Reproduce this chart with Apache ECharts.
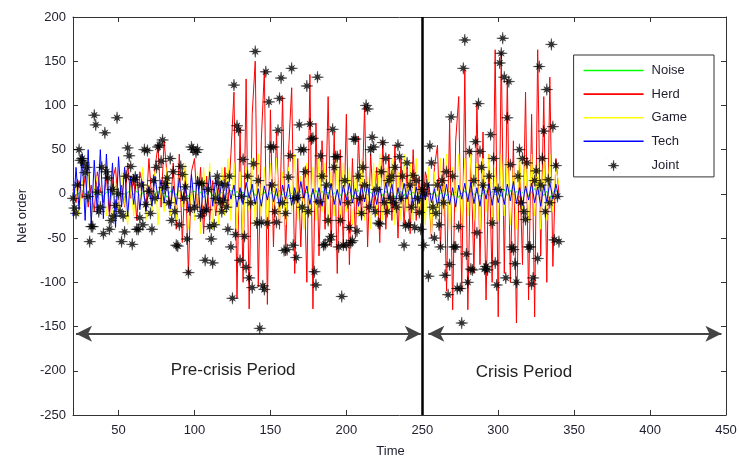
<!DOCTYPE html>
<html>
<head>
<meta charset="utf-8">
<script src="https://cdn.jsdelivr.net/npm/echarts@6/dist/echarts.min.js"></script>
<style>
html,body{margin:0;padding:0;background:#fff;}
#c{width:739px;height:459px;}
</style>
</head>
<body>
<div id="c"></div>
<script>
// ---- data ----
const lineStart = 20;   // first time step of the strategy lines
const lineStep = 2;     // time step of the strategy lines
const jointStart = 20;  // first time step of the joint orders

const noise = [
2,-3,1,4,-2,3,-4,1,2,-1,
-3,2,4,-1,3,-2,1,-4,2,3,
-1,3,-2,1,4,-3,2,-1,3,-2,
1,-4,3,2,-1,4,-2,1,-3,2,
3,-1,2,-4,1,3,-2,4,-1,2,
-3,1,4,-2,3,-1,2,-3,1,4,
-2,3,-1,2,-4,1,3,-2,4,-1,
2,-3,1,4,-2,3,-1,2,-3,1,
4,-2,3,-1,2,-4,1,3,-2,4,
-1,2,-3,1,4,-2,3,-1,2,-3,
1,4,-2,3,-1,2,-4,1,3,-2,
4,-1,2,-3,1,4,-2,3,-1,2,
-3,1,4,-2,3,-1,2,-4,1,3,
-2,4,-1,2,-3,1,4,-2,3,-1,
2,-3,5,-2,4,-1,3,-4,2,5,
-3,2,6,-1,4,-2,3,-5,2,4,
0];

const herd = [
5,-10,15,-5,20,-15,10,-20,25,5,
-10,20,-25,15,30,-20,10,-15,35,-5,
20,-30,25,10,-20,40,-10,30,55,-15,
60,20,-25,35,-40,45,-55,30,-90,25,
40,-20,30,-45,20,-30,15,-25,10,-20,
30,-15,45,115,-118,75,-100,130,-130,90,
150,-105,60,140,-125,95,-60,70,-40,110,
-70,50,120,-90,40,-60,30,-100,135,-130,
80,-70,60,-40,110,-60,70,-90,50,-60,
90,-80,40,-50,65,-30,100,-60,45,-20,
30,-55,60,-40,45,-30,55,-50,40,-35,
30,-45,50,-30,20,-40,25,10,-50,30,
55,-60,40,-110,84,-131,60,110,-110,140,
-131,50,-90,103,-80,70,-120,45,-100,163,
-139,160,-90,130,-100,60,-146,40,-80,115,
-120,90,-139,163,-70,110,-100,132,-82,40,
0];

const game = [
-20,10,-25,15,-10,25,-30,5,20,-15,
10,-25,20,-30,15,-20,25,-10,-35,10,
-25,20,-15,30,-30,10,-20,25,-35,15,
-20,30,-25,10,-30,20,-15,35,-40,15,
-30,25,-45,30,-20,35,-40,20,-35,30,
-25,40,-30,35,-40,25,-45,30,-20,40,
-35,45,-25,30,-40,35,-20,40,-30,25,
-35,30,-20,45,-30,20,-40,35,-25,30,
-30,40,-20,35,-35,25,-25,40,-30,35,
-20,30,-35,25,-25,40,-30,20,-40,35,
-25,45,-30,30,-20,40,-35,25,-30,45,
-20,35,-30,40,-25,20,-35,30,-45,25,
-30,40,-25,45,-40,30,-20,45,-35,40,
-25,45,-30,35,-40,40,-20,45,-35,30,
-30,45,-25,40,-35,30,-40,45,-20,40,
-30,45,-25,35,-40,40,-30,45,-20,30,
10];

const tech = [
-25,30,-18,45,-30,50,-35,38,-22,50,
-28,45,-20,35,-38,42,-15,30,-25,20,
-12,22,-18,14,-20,8,-14,20,-6,16,
-10,14,-17,9,-12,18,-8,12,-20,22,
-15,20,-26,12,-20,25,-14,18,-10,15,
-8,14,-6,10,-15,7,-12,13,-5,11,
-12,6,-14,9,-7,13,-9,6,-15,10,
-6,11,-13,7,-10,14,-5,9,-12,6,
-11,7,-14,9,-6,12,-12,5,-13,10,
-7,12,-10,6,-14,10,-9,11,-15,7,
-12,8,-10,13,-6,11,-14,7,-9,12,
-6,10,-13,8,-11,9,-7,12,-10,6,
-14,9,-8,11,-12,7,-15,10,-6,12,
-9,13,-11,7,-14,10,-6,12,-13,8,
-10,6,-12,11,-8,14,-11,7,-13,9,
-7,12,-10,8,-14,10,-9,13,-6,11,
-5];

const joint = [
-5,-16,-22,10,50,38,40,35,24,30,
-3,-54,-37,-37,89,78,2,-20,-15,30,
-45,69,25,18,-40,-30,5,-25,-13,86,
0,-20,-54,-25,-43,20,52,43,31,-57,
16,19,-40,-40,-27,10,-35,50,-12,49,
3,-22,-40,15,-5,30,53,55,37,61,
7,12,18,-10,40,-30,25,-20,-58,-59,
-35,31,22,-5,8,-51,-89,-18,53,50,
-15,47,50,12,-25,12,-20,-75,-18,5,
-37,-51,-78,-35,-5,20,12,-10,-20,-7,
10,-15,-40,20,-60,-118,123,-46,77,72,
-75,-3,39,-48,-83,20,-95,-10,-106,34,
161,-33,15,-152,-32,-104,-108,138,-33,104,
53,10,53,-20,-32,72,108,131,-10,-64,
-22,-63,19,43,142,-58,-5,-72,-4,78,
50,-15,50,25,122,-20,79,62,63,-88,
-103,132,-9,43,20,-58,-57,10,-30,-52,
-48,73,30,42,42,-60,-30,-116,-58,15,
-58,-10,-38,-55,-53,62,62,-42,20,-5,
-22,30,10,100,96,-15,50,64,53,-20,
5,-33,-34,25,58,-10,40,-20,15,-5,
20,-10,30,-15,55,42,-5,20,-58,-36,
35,-35,10,-15,21,-38,15,-5,-21,-40,
5,-58,0,10,-93,54,35,-15,-50,-22,
10,-35,-60,15,-10,-92,25,-114,-80,87,
20,-60,-60,-107,-37,-107,-146,142,174,-68,
-100,48,-85,-86,15,59,-44,102,48,30,
10,-85,-82,-86,20,67,-33,40,-78,-103,
5,148,159,176,132,-95,86,127,33,-60,
-63,-79,-100,20,50,-10,40,-20,-29,35,
-60,-60,-102,-95,15,26,-73,144,10,40,
71,-20,118,16,-10,169,76,-52,32,-3,
-54];

const xTicks = [50,100,150,200,250,300,350,400,450];
const crisisStart = 250;
const arrowLevel = -158;
const preCrisisSpan = [22, 249];
const crisisSpan = [254, 447];
const periodLabels = ['Pre-crisis Period', 'Crisis Period'];
const seriesNames = ['Noise','Herd','Game','Tech','Joint'];
const seriesColors = {Noise:'#00ff00', Herd:'#ff0000', Game:'#ffff00', Tech:'#0000ff', Joint:'#000000'};

// ---- build ----
function toPairs(arr, start, step){ return arr.map((v,i)=>[start+i*step, v]); }

const starBody = 'M20,10 L12.6,11.1 L14.95,14.95 L11.1,12.6 L10,20 L8.9,12.6 L5.05,14.95 L7.4,11.1 L0,10 L7.4,8.9 L5.05,5.05 L8.9,7.4 L10,0 L11.1,7.4 L14.95,5.05 L12.6,8.9 Z';
const starPath = 'path://' + starBody;
// legend version: same star inside a larger invisible frame so it draws smaller
const legendStar = 'path://M-3,-3 L-2.9,-3 L-2.9,-2.9 Z M23,23 L22.9,23 L22.9,22.9 Z ' + starBody;
const legendLine = 'path://M0,0 L60,0 L60,1.6 L0,1.6 Z';
const FONT = '"Liberation Sans", Arial, sans-serif';
const txt = '#1e1e2e';

const chart = echarts.init(document.getElementById('c'), null, {renderer:'canvas'});
const grid = {left:73, top:17, right:13, bottom:44, containLabel:false, outerBoundsMode:'none'};

function lineSeries(name, data){
  const color = seriesColors[name];
  return {name, type:'line', data: toPairs(data, lineStart, lineStep), symbol:'none', showSymbol:false,
    lineStyle:{color, width:1}, itemStyle:{color}, silent:true, emphasis:{disabled:true}};
}

const option = {
  animation:false,
  backgroundColor:'#fff',
  grid,
  legend:{
    data: seriesNames.map(n => n==='Joint'
      ? {name:n, icon:legendStar, itemStyle:{color:'#000', borderColor:'#000', borderWidth:0.5}}
      : {name:n, icon:legendLine, itemStyle:{color:seriesColors[n]}}),
    orient:'vertical', right:25, top:55,
    backgroundColor:'#fff', borderColor:'#333', borderWidth:1, borderRadius:0,
    padding:[9, 27, 4, 10], itemWidth:60, itemHeight:14, itemGap:10.6,
    textStyle:{fontFamily:FONT, fontSize:13, color:txt, padding:[0,0,0,3]}
  },
  xAxis:[{
    type:'value', min:20, max:450, position:'bottom',
    name:'Time', nameLocation:'middle', nameGap:30,
    nameTextStyle:{fontFamily:FONT, fontSize:13, color:txt, padding:[0,18,0,0]},
    axisLine:{show:true, onZero:false, lineStyle:{color:'#333', width:1}},
    axisTick:{show:true, inside:true, length:5, customValues:xTicks, lineStyle:{color:'#333'}},
    axisLabel:{customValues:xTicks, fontFamily:FONT, fontSize:13, color:txt, margin:9},
    splitLine:{show:false}
  },{
    type:'value', min:20, max:450, position:'top',
    axisLine:{show:true, onZero:false, lineStyle:{color:'#333', width:1}},
    axisTick:{show:true, inside:true, length:5, customValues:xTicks, lineStyle:{color:'#333'}},
    axisLabel:{show:false}, splitLine:{show:false}
  }],
  yAxis:[{
    type:'value', min:-250, max:200, interval:50, position:'left',
    name:'Net order', nameLocation:'middle', nameGap:43, nameRotate:90,
    nameTextStyle:{fontFamily:FONT, fontSize:13, color:txt},
    axisLine:{show:true, onZero:false, lineStyle:{color:'#333', width:1}},
    axisTick:{show:true, inside:true, length:5, lineStyle:{color:'#333'}},
    axisLabel:{fontFamily:FONT, fontSize:13, color:txt, margin:7},
    splitLine:{show:false}
  },{
    type:'value', min:-250, max:200, interval:50, position:'right',
    axisLine:{show:true, onZero:false, lineStyle:{color:'#333', width:1}},
    axisTick:{show:true, inside:true, length:5, lineStyle:{color:'#333'}},
    axisLabel:{show:false}, splitLine:{show:false}
  }],
  series:[
    lineSeries('Noise', noise),
    lineSeries('Herd', herd),
    lineSeries('Game', game),
    lineSeries('Tech', tech),
    {name:'Joint', type:'scatter', data: toPairs(joint, jointStart, 1), symbol:starPath, symbolSize:12,
      itemStyle:{color:'#000', borderColor:'rgba(0,0,0,0.5)', borderWidth:0.9}, silent:true, z:5},
    {name:'periods', type:'line', data:[], silent:true, z:6,
      markLine:{silent:true, symbol:['arrow','arrow'], symbolSize:[12,16], label:{show:false},
        lineStyle:{color:'#444', width:2, type:'solid'}, emphasis:{disabled:true},
        data:[
          [{coord:[preCrisisSpan[0], arrowLevel]},{coord:[preCrisisSpan[1], arrowLevel]}],
          [{coord:[crisisSpan[0], arrowLevel]},{coord:[crisisSpan[1], arrowLevel]}]
        ]}},
    {name:'divider', type:'line', data:[], silent:true, z:7,
      markLine:{silent:true, symbol:['none','none'], label:{show:false},
        lineStyle:{color:'#000', width:2.5, type:'solid'}, emphasis:{disabled:true},
        data:[{xAxis:crisisStart}]}}
  ]
};
chart.setOption(option);

// period captions placed at data positions
const p1 = chart.convertToPixel({gridIndex:0}, [125.5, -200]);
const p2 = chart.convertToPixel({gridIndex:0}, [317, -202]);
chart.setOption({graphic:[
  {type:'text', x:p1[0], y:p1[1], style:{text:periodLabels[0], font:'17px '+FONT, fill:'#222', align:'center', verticalAlign:'middle'}},
  {type:'text', x:p2[0], y:p2[1], style:{text:periodLabels[1], font:'17px '+FONT, fill:'#222', align:'center', verticalAlign:'middle'}}
]});
</script>
</body>
</html>
